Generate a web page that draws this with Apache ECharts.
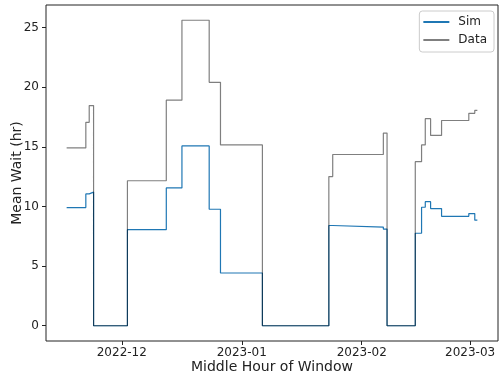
<!DOCTYPE html>
<html>
<head>
<meta charset="utf-8">
<script src="https://cdn.jsdelivr.net/npm/echarts@6/dist/echarts.min.js"></script>
<style>
html,body{margin:0;padding:0;background:#fff;}
#chart{width:499px;height:374px;}
</style>
</head>
<body>
<div id="chart"></div>
<script>
// Step change times (middle hour of window)
var times = [
  '2022-11-16 18:00','2022-11-21 17:00','2022-11-22 14:00','2022-11-23 17:00',
  '2022-12-02 11:00','2022-12-12 12:00','2022-12-16 13:00','2022-12-23 14:00',
  '2022-12-26 12:00','2023-01-06 08:00','2023-01-23 12:00','2023-01-24 12:00',
  '2023-02-06 14:00','2023-02-07 13:00','2023-02-14 20:00','2023-02-16 11:00',
  '2023-02-17 10:00','2023-02-18 19:00','2023-02-21 15:00','2023-02-28 16:00',
  '2023-03-02 05:00','2023-03-02 21:00'
];
var simValues = [
  9.9, 11.05, 11.2, 0,
  8.05, 11.55, 15.07, 9.76,
  4.42, 0, 8.4, 8.27,
  8.1, 0, 7.75, 9.93,
  10.4, 9.82, 9.17, 9.4,
  8.85, 8.85
];
var dataValues = [
  14.9, 17.05, 18.45, 0,
  12.15, 18.9, 25.6, 20.4,
  15.15, 0, 12.5, 14.35,
  16.15, 0, 13.75, 15.15,
  17.35, 15.95, 17.2, 17.8,
  18.05, 18.05
];
var xTickLabels = ['2022-12-01 00:00', '2023-01-01 00:00', '2023-02-01 00:00', '2023-03-01 00:00'];
var yTickValues = [0, 5, 10, 15, 20, 25];

function ts(s) { return new Date(s.replace(' ', 'T')).getTime(); }
var simSeries = times.map(function (t, i) { return [ts(t), simValues[i]]; });
var dataSeries = times.map(function (t, i) { return [ts(t), dataValues[i]]; });

var font = 'DejaVu Sans';
var chart = echarts.init(document.getElementById('chart'), null, {renderer: 'canvas'});
chart.setOption({
  animation: false,
  backgroundColor: '#fff',
  textStyle: {fontFamily: font},
  grid: {left: 46, right: 1, top: 5, bottom: 33, containLabel: false, outerBoundsMode: 'none',
    show: true, borderColor: '#222', borderWidth: 1, backgroundColor: 'transparent'},
  legend: {
    orient: 'vertical', right: 5, top: 11,
    backgroundColor: '#fff', borderColor: '#ccc', borderWidth: 1, borderRadius: 3,
    padding: [5, 7, 6, 4], itemWidth: 26, itemHeight: 2, itemGap: 6, icon: 'rect',
    textStyle: {fontSize: 12, color: '#222', fontFamily: font, padding: [0, 0, 0, 4]},
    data: ['Sim', 'Data']
  },
  xAxis: {
    type: 'value',
    min: ts('2022-11-11 10:00'), max: ts('2023-03-08 05:00'),
    name: 'Middle Hour of Window', nameLocation: 'middle', nameGap: 19, nameMoveOverlap: false,
    nameTextStyle: {fontSize: 14, color: '#222', fontFamily: font},
    axisLine: {show: false, onZero: false},
    axisTick: {show: true, length: 4, lineStyle: {color: '#222'}, customValues: xTickLabels.map(ts)},
    axisLabel: {fontSize: 12, color: '#222', margin: 6, fontFamily: font,
      customValues: xTickLabels.map(ts),
      formatter: function (v) { var d = new Date(v); var m = d.getMonth() + 1; return d.getFullYear() + '-' + (m < 10 ? '0' + m : m); }},
    splitLine: {show: false}
  },
  yAxis: {
    type: 'value', min: -1.28, max: 26.88,
    name: 'Mean Wait (hr)', nameLocation: 'middle', nameGap: 22, nameMoveOverlap: false,
    nameTextStyle: {fontSize: 14, color: '#222', fontFamily: font},
    axisLine: {show: false, onZero: false},
    axisTick: {show: true, length: 4, lineStyle: {color: '#222'}, customValues: yTickValues},
    axisLabel: {fontSize: 12, color: '#222', margin: 7, fontFamily: font, customValues: yTickValues},
    splitLine: {show: false}
  },
  series: [
    {name: 'Sim', type: 'line', step: 'end', symbol: 'none', data: simSeries,
      lineStyle: {color: '#1f77b4', width: 1.2}, itemStyle: {color: '#1f77b4'}},
    {name: 'Data', type: 'line', step: 'end', symbol: 'none', data: dataSeries,
      lineStyle: {color: 'rgba(0,0,0,0.5)', width: 1.2}, itemStyle: {color: 'rgba(0,0,0,0.5)'}}
  ]
});
</script>
</body>
</html>
